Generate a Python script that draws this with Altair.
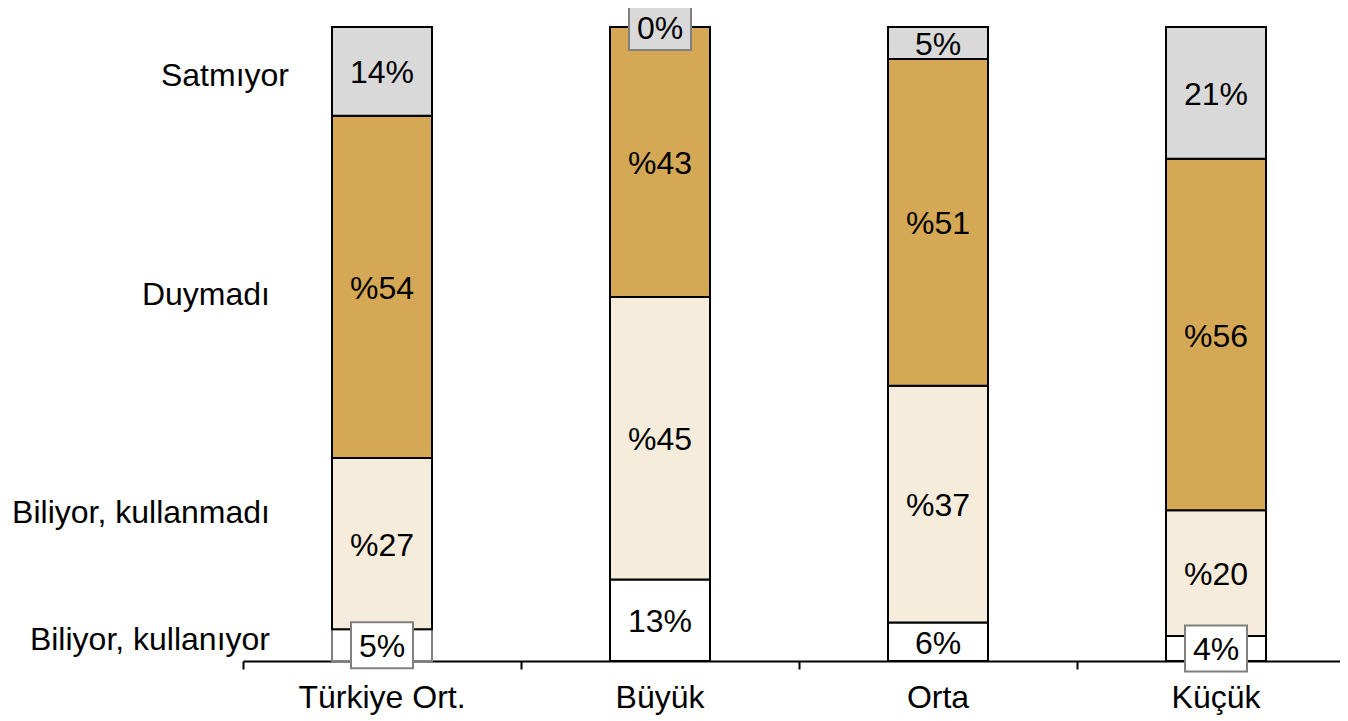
import altair as alt
import pandas as pd

categories = ["Türkiye Ort.", "Büyük", "Orta", "Küçük"]
series = ["Biliyor, kullanıyor", "Biliyor, kullanmadı", "Duymadı", "Satmıyor"]
colors = ["#FFFFFF", "#F5ECDC", "#D4A854", "#D9D9D9"]

kullaniyor = [5, 13, 6, 4]
kullanmadi = [27, 45, 37, 20]
duymadi = [54, 43, 51, 56]
satmiyor = [14, 0, 5, 21]

lbl_kullaniyor = ["5%", "13%", "6%", "4%"]
lbl_kullanmadi = ["%27", "%45", "%37", "%20"]
lbl_duymadi = ["%54", "%43", "%51", "%56"]
lbl_satmiyor = ["14%", "0%", "5%", "21%"]

boxed = [("Türkiye Ort.", "Biliyor, kullanıyor"),
         ("Büyük", "Satmıyor"),
         ("Küçük", "Biliyor, kullanıyor")]

vals = [kullaniyor, kullanmadi, duymadi, satmiyor]
lbls = [lbl_kullaniyor, lbl_kullanmadi, lbl_duymadi, lbl_satmiyor]
rows = []
for si, s in enumerate(series):
    for ci, c in enumerate(categories):
        rows.append({"cat": c, "series": s, "value": vals[si][ci],
                     "label": lbls[si][ci], "order": si,
                     "boxed": (c, s) in boxed})
df = pd.DataFrame(rows)

FONT = "Arial, Liberation Sans"
FS = 32

base = alt.Chart(df).transform_stack(
    stack="value", groupby=["cat"], as_=["y0", "y1"],
    sort=[alt.SortField("order")], offset="normalize"
).transform_calculate(mid="(datum.y0 + datum.y1) / 2")

xenc = alt.X(
    "cat:N", sort=categories,
    scale=alt.Scale(domain=categories, range=[0, 1112], paddingInner=0, paddingOuter=0),
    axis=alt.Axis(title=None, bandPosition=0, tickSize=8, tickWidth=2,
                  tickColor="black", domainColor="black", domainWidth=2,
                  labelFont=FONT, labelFontSize=FS, labelColor="black",
                  labelPadding=13, labelOverlap=False, labelFlush=False, labelAngle=0),
)
yscale = alt.Scale(domain=[0, 1], nice=False, zero=True)
colscale = alt.Scale(domain=series, range=colors)

bars = base.mark_bar(size=100, strokeWidth=2).encode(
    x=xenc,
    y=alt.Y("y0:Q", scale=yscale, axis=None),
    y2="y1:Q",
    fill=alt.Fill("series:N", scale=colscale, legend=None),
    stroke=alt.condition(
        "datum.cat == 'Türkiye Ort.' && datum.series == 'Biliyor, kullanıyor'",
        alt.value("#808080"), alt.value("black")),
)

boxes = base.transform_filter("datum.boxed").mark_point(
    shape="M-1,-0.742L1,-0.742L1,0.742L-1,0.742Z", size=3844,
    filled=True, opacity=1, stroke="#808080", strokeWidth=2
).encode(
    x=alt.X("cat:N", sort=categories),
    y=alt.Y("mid:Q", scale=yscale),
    fill=alt.Fill("series:N", scale=colscale, legend=None),
)

texts = base.mark_text(font=FONT, fontSize=FS, color="black",
                       baseline="middle", align="center", dy=2).encode(
    x=alt.X("cat:N", sort=categories),
    y=alt.Y("mid:Q", scale=yscale),
    text="label:N",
)

side_style = {
    "Satmıyor": (19, 5),
    "Duymadı": (0, 8),
    "Biliyor, kullanmadı": (0, -31),
    "Biliyor, kullanıyor": (0, -5),
}
side_layers = []
for s, (ddx, ddy) in side_style.items():
    side_layers.append(
        base.transform_filter(
            f"datum.cat == 'Türkiye Ort.' && datum.series == '{s}'"
        ).mark_text(font=FONT, fontSize=FS, color="black", align="right",
                    baseline="middle", dx=ddx, dy=ddy).encode(
            x=alt.value(27),
            y=alt.Y("mid:Q", scale=yscale),
            text="series:N",
        )
    )

chart = alt.layer(bars, boxes, texts, *side_layers).properties(
    width=1097, height=634,
    autosize=alt.AutoSizeParams(type="none"),
    padding={"left": 235, "top": 19, "right": 0, "bottom": 58},
).configure_view(stroke=None)

chart.save("out.html", embed_options={"renderer": "svg", "actions": False})
